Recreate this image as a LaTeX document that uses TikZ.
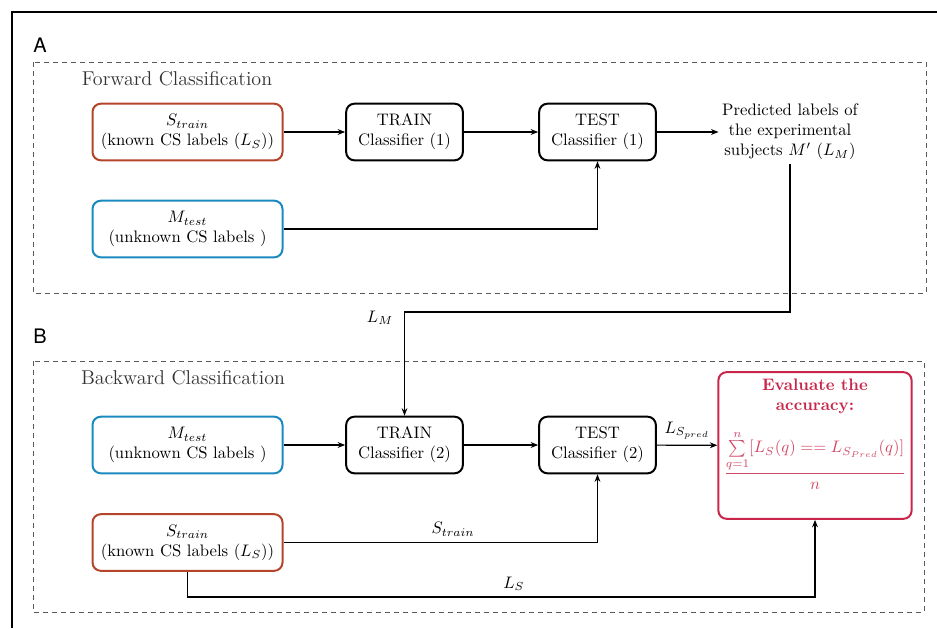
\documentclass[tikz,border=0pt]{standalone}
\usepackage{fontspec}
\newfontfamily\panelfont{TeX Gyre Heros}
\usetikzlibrary{arrows.meta}
\definecolor{trainc}{HTML}{B5452A}
\definecolor{testc}{HTML}{1A8AC0}
\definecolor{evalc}{HTML}{C8264B}
\tikzset{
  databox/.style={draw,line width=1.2pt,rounded corners=5pt,minimum width=114pt,minimum height=34pt,align=center,fill=white},
  clfbox/.style={draw,line width=1.2pt,rounded corners=5pt,minimum width=70pt,minimum height=34pt,align=center,fill=white},
  panel/.style={draw=black!65,dashed,dash pattern=on 3pt off 2.4pt,line width=0.6pt},
  conn/.style={line width=0.7pt}
}
\begin{document}
\begin{tikzpicture}[x=0.6pt,y=-0.6pt,>={Stealth[length=4.5pt,width=3.5pt]}]
   \useasboundingbox (0,0) rectangle (937,628);
   %frame
   \draw[line width=1.2pt] (12,628) -- (12,12) -- (937,12);
   %panels
   \node[font=\panelfont\fontsize{12}{14}\selectfont] (labA) at (40,45) {A};
   \node[font=\panelfont\fontsize{12}{14}\selectfont] (labB) at (40,336) {B};
   \draw[panel] (33,62) rectangle (926,293);
   \draw[panel] (33,361) rectangle (924,612);
   \node[font=\large,text=black!80] (titA) at (177,79) {Forward Classification};
   \node[font=\large,text=black!80] (titB) at (183,378) {Backward Classification};
   %forward
   \node[databox,draw=trainc] (strainA) at (187.5,132) {$S_{train}$\\(known CS labels ($L_S$))};
   \node[databox,draw=testc] (mtestA) at (187.5,229) {$M_{test}$\\(unknown CS labels )};
   \node[clfbox] (trainA) at (404.5,132) {TRAIN\\Classifier (1)};
   \node[clfbox] (testA) at (597.5,132) {TEST\\Classifier (1)};
   \node[align=center,inner sep=2pt] (pred) at (790,132) {Predicted labels of\\the experimental\\subjects $M'$ ($L_M$)};
   \draw[conn,->] (strainA) -- (trainA);
   \draw[conn,->] (trainA) -- (testA);
   \draw[conn,->] (testA) -- (pred);
   \draw[conn,->] (mtestA.east) -| (testA.south);
   %backward
   \node[databox,draw=testc] (mtestB) at (187.5,445) {$M_{test}$\\(unknown CS labels )};
   \node[databox,draw=trainc] (strainB) at (187.5,542.5) {$S_{train}$\\(known CS labels ($L_S$))};
   \node[clfbox] (trainB) at (404.5,445) {TRAIN\\Classifier (2)};
   \node[clfbox] (testB) at (597.5,445) {TEST\\Classifier (2)};
   \node[draw=evalc,line width=1.2pt,rounded corners=5pt,minimum width=116pt,minimum height=88pt] (evalB) at (815,445.5) {};
   \node[align=center,text=evalc] (evaltxt) at (815,434) {\textbf{Evaluate the}\\\textbf{accuracy:}\\[9pt]
     \color{evalc!85}$\displaystyle\frac{\sum\limits_{q=1}^{n}[L_S(q)==L_{S_{Pred}}(q)]}{n}$};
   \coordinate (lm) at (790,312);
   \coordinate (ls) at (187.5,597);
   \draw[conn,->] (pred.south) -- (lm) -| (trainB.north);
   \node (lmlab) at (380,318) {$L_M$};
   \draw[conn,->] (mtestB) -- (trainB);
   \draw[conn,->] (trainB) -- (testB);
   \draw[conn,->] (testB) -- node[above] {$L_{S_{pred}}$} (evalB);
   \draw[conn,->] (strainB.east) -| node[pos=0.27,above] {$S_{train}$} (testB.south);
   \draw[conn,->] (strainB.south) -- (ls) -| node[pos=0.26,above] {$L_S$} (evalB.south);
\end{tikzpicture}
\end{document}
